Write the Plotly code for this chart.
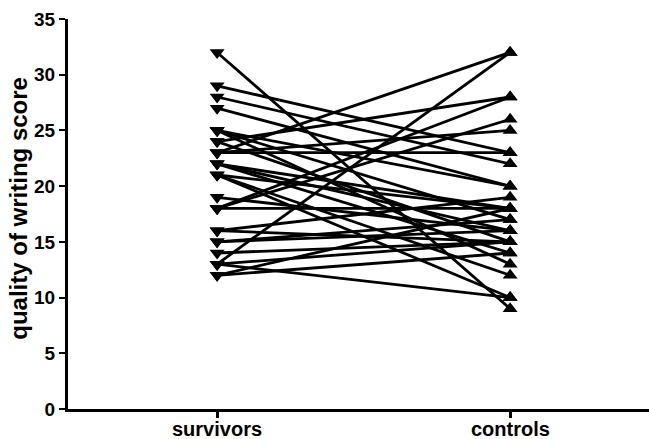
import plotly.graph_objects as go

groups = ["survivors", "controls"]
survivors = [32, 29, 28, 27, 25, 25, 25, 24, 24, 23, 23, 23, 22, 22, 22,
             21, 21, 21, 19, 18, 18, 18, 16, 16, 15, 15, 14, 13, 13, 13, 12, 12]
controls = [9, 23, 22, 20, 20, 17, 13, 28, 15, 32, 23, 25, 18, 16, 14,
            18, 12, 10, 16, 28, 26, 18, 15, 19, 16, 17, 15, 32, 10, 15, 14, 18]
y_ticks = [0, 5, 10, 15, 20, 25, 30, 35]

FONT = "Liberation Sans, Arial, sans-serif"

fig = go.Figure()
for s, c in zip(survivors, controls):
    fig.add_trace(go.Scatter(
        x=[0, 1], y=[s, c],
        mode="lines+markers",
        line=dict(color="black", width=2.8),
        marker=dict(symbol=["triangle-down", "triangle-up"], size=13,
                    color="black"),
        showlegend=False, hoverinfo="skip",
    ))

# group names drawn as annotations so they sit tight under the tick marks
for i, g in enumerate(groups):
    fig.add_annotation(
        x=i, xref="x", y=0, yref="paper", yanchor="top", yshift=-7,
        text=f"<b>{g}</b>", showarrow=False,
        font=dict(size=20, family=FONT, color="black"),
    )

# vertical axis title
fig.add_annotation(
    x=-0.085, xref="paper", y=0.515, yref="paper",
    xanchor="center", yanchor="middle", textangle=-90,
    text="<b>quality of writing score</b>", showarrow=False,
    font=dict(size=24, family=FONT, color="black"),
)

fig.update_layout(
    width=649, height=439,
    margin=dict(l=68, r=0, t=19, b=30),
    paper_bgcolor="white", plot_bgcolor="white",
    font=dict(family=FONT, color="black"),
)
fig.update_xaxes(
    range=[-0.509, 1.474], automargin=False,
    tickvals=[0, 1], showticklabels=False,
    showline=True, linecolor="black", linewidth=3,
    ticks="outside", ticklen=6, tickwidth=3, tickcolor="black",
    showgrid=False, zeroline=False,
)
fig.update_yaxes(
    range=[0, 35], automargin=False,
    tickvals=y_ticks, ticktext=[f"<b>{t}</b>" for t in y_ticks],
    showline=True, linecolor="black", linewidth=3,
    ticks="outside", ticklen=6, tickwidth=2, tickcolor="black",
    tickfont=dict(size=19, family=FONT), showgrid=False, zeroline=False,
)

fig.write_html("out.html")
